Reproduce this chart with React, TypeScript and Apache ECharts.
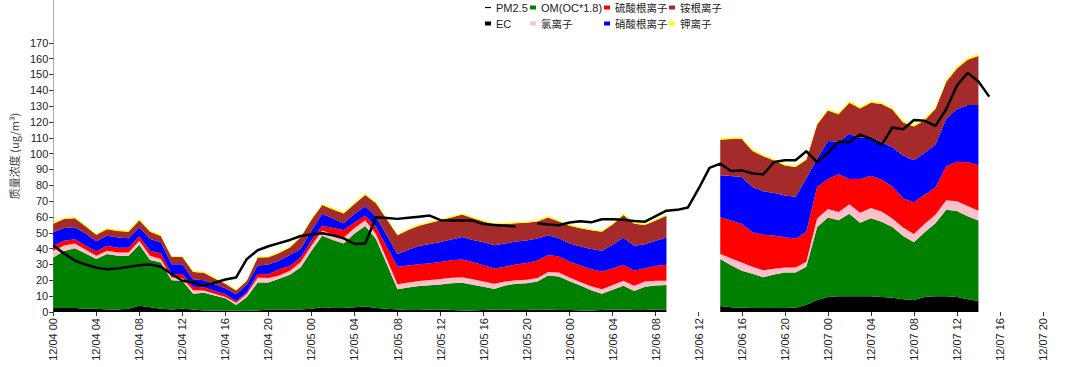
import React, { useEffect, useRef } from "react";
import * as echarts from "echarts";

// hours since 12/04 00:00 (areas; 58-61 missing)
const hours = [
  0, 1, 2, 3, 4, 5, 6, 7, 8, 9, 10, 11, 12, 13, 14, 15, 16, 17, 18, 19,
  20, 21, 22, 23, 24, 25, 26, 27, 28, 29, 30, 31, 32, 33, 34, 35, 36, 37, 38, 39,
  40, 41, 42, 43, 44, 45, 46, 47, 48, 49, 50, 51, 52, 53, 54, 55, 56, 57, 58, 59,
  60, 61, 62, 63, 64, 65, 66, 67, 68, 69, 70, 71, 72, 73, 74, 75, 76, 77, 78, 79,
  80, 81, 82, 83, 84, 85, 86,
];

const ec = [
  2.5, 2.5, 2.5, 2, 2, 1.5, 1.5, 2, 4, 3, 2, 1.5, 2, 1.5, 1, 1, 1, 0.8, 0.8, 1,
  1.5, 1.5, 1.5, 1.5, 2, 3, 2.5, 2.5, 3, 3.5, 2.5, 2, 1.5, 1.2, 1.2, 1.5, 1.5, 1.2, 1, 1,
  1.2, 1.5, 1.5, 1.2, 1.2, 1.5, 1.5, 1.2, 1.2, 1, 1, 1.2, 1.5, 1.5, 1.2, 1.2, 1.5, 1.5, null, null,
  null, null, 3.8, 3, 2.7, 2.5, 2.5, 2.5, 2.5, 2.7, 4.5, 7.5, 9.5, 10, 10, 10, 10, 9.5, 9, 8,
  7.5, 9.5, 10, 10, 9.5, 8, 7,
];

const om = [
  31.9, 36, 37.8, 35, 31.4, 35.1, 34, 33.5, 38.5, 29.8, 29.3, 18.6, 17.7, 10.1, 11.2, 9.4, 7.7, 3.6, 8.7, 17.6,
  17.1, 19.5, 22, 26.8, 36.7, 45.2, 43, 40.8, 46.5, 50.8, 43.6, 28.3, 12.9, 14.3, 15.2, 15.4, 15.9, 16.9, 17.5, 16.2,
  14.7, 13.1, 15.3, 16.6, 17, 17.8, 21.5, 21.2, 18.2, 15.8, 12.8, 10.4, 12.5, 15, 12.1, 14.8, 15.3, 15.6, null, null,
  null, null, 29.6, 26.5, 23.3, 21.7, 19.5, 21.2, 22.4, 22.2, 24.1, 46, 50.1, 48, 52, 46.4, 49.2, 47.5, 44.6, 40,
  36.5, 40.9, 46.1, 54.5, 54.2, 52.5, 50.7,
];

const chloride = [
  4.3, 3.5, 3, 2.5, 2.1, 2.1, 2, 2, 2.5, 2.7, 2.1, 1.7, 1.8, 2.2, 1.3, 1.1, 0.8, 1.5, 2, 3.2,
  2.9, 2, 2.5, 3.2, 3.3, 3.2, 3.5, 3.8, 3.5, 3.7, 3.2, 3.1, 3.2, 3.2, 3.2, 3.3, 3.5, 3.5, 3.5, 3.4,
  3.4, 3.2, 2.4, 2.2, 2.2, 2.1, 2.3, 2.6, 2.4, 2.2, 2.4, 2.8, 3, 3.2, 3.2, 3.2, 2.9, 2.6, null, null,
  null, null, 3.2, 4.5, 5.3, 4.4, 4.3, 3.6, 3.2, 3.2, 3.2, 5.5, 5.4, 5.2, 6, 6.3, 6.4, 6.5, 5.4, 5.4,
  5.3, 5.3, 5.3, 6, 6.3, 6.4, 6.3,
];

const sulfate = [
  3.2, 3, 2.7, 2.5, 2.7, 3.2, 3, 3, 2.6, 3.2, 3.6, 2.1, 2.5, 2.1, 2.1, 1.8, 1.7, 1.1, 1, 2.2,
  2.4, 4, 3, 3, 3, 3.1, 4, 4.7, 3.5, 2.8, 4.4, 7.7, 10.9, 10.7, 10.5, 10.6, 10.6, 11.1, 11.2, 11,
  10.2, 9.6, 9.4, 10, 10.6, 11.1, 10.7, 10, 9.9, 10.3, 10.8, 11.2, 10.5, 10.1, 9.5, 8.5, 9.3, 10.1, null, null,
  null, null, 23.2, 23.8, 24.3, 21.7, 22.4, 21, 19.1, 18.3, 18.7, 20, 19, 23.8, 16, 21.3, 20.4, 20, 20.2, 18.2,
  20, 18.4, 17.2, 21.5, 24.8, 27.6, 28.6,
];

const nitrate = [
  8.4, 8, 7.5, 7.5, 6.4, 6.3, 6.5, 6, 5.9, 7.4, 7, 6.3, 6.2, 4.8, 4.5, 4.2, 3.8, 4.2, 5, 5.4,
  6.1, 5.5, 7, 5.5, 6.5, 7.5, 6, 4.2, 5.5, 6.2, 6.6, 7.4, 8.1, 9.9, 11.5, 12.2, 12.7, 13.1, 14.2, 13.9,
  14.5, 14.8, 14.6, 14.5, 14.2, 13.9, 12.4, 11.5, 11.5, 12, 12.8, 13.1, 15, 17.3, 15.9, 15, 16, 17.3, null, null,
  null, null, 26.5, 28, 29.6, 28.7, 27.5, 26.9, 26.4, 26.4, 34, 17.7, 24, 20.5, 28.5, 26, 24.7, 23.9, 24.8, 27.2,
  26.5, 26.4, 27.2, 30, 33.4, 36.2, 38.1,
];

const ammonium = [
  5.5, 5.7, 5.7, 4.7, 4.1, 4, 4.2, 4.2, 4.5, 4.5, 4, 4.5, 4.5, 4.5, 4.7, 3.7, 2.8, 2.4, 2.2, 5,
  4.5, 4.7, 4.7, 7.2, 6.7, 5.5, 5.7, 6.2, 6.2, 6.9, 8.4, 10.1, 11.9, 12.4, 12.9, 13.2, 13.7, 13.9, 14.1, 13.7,
  13.2, 13, 12.3, 11.5, 11.2, 10.8, 11.3, 10.7, 11.2, 11.6, 11.8, 11.9, 12.7, 14.1, 13.9, 12.3, 12.7, 13.6, null, null,
  null, null, 22.4, 23.4, 24, 22.7, 22.2, 20.4, 18.9, 18.7, 11.7, 21.5, 19.2, 17.4, 19.7, 18.5, 21.5, 23.9, 23.8, 20.9,
  21.4, 20.6, 22.4, 23.2, 25.5, 28.5, 30.9,
];

const potassium = [
  0.8, 0.8, 0.8, 0.8, 0.7, 0.8, 0.8, 0.8, 0.9, 0.8, 0.8, 0.7, 0.7, 0.7, 0.7, 0.6, 0.6, 0.6, 0.6, 0.7,
  0.7, 0.7, 0.8, 0.8, 0.8, 0.9, 0.9, 0.9, 0.9, 0.9, 0.9, 0.8, 0.8, 0.8, 0.8, 0.8, 0.8, 0.8, 0.8, 0.8,
  0.8, 0.8, 0.8, 0.8, 0.8, 0.8, 0.9, 0.8, 0.8, 0.8, 0.8, 0.8, 0.8, 0.9, 0.8, 0.8, 0.8, 0.8, null, null,
  null, null, 1, 1, 1, 1, 0.9, 0.9, 0.9, 0.9, 0.9, 1, 1, 1, 1, 1, 1, 1, 1, 1,
  1, 1, 1, 1.1, 1.1, 1.1, 1.1,
];

// PM2.5 line (hour 44 missing)
const pmHours = [
  0, 1, 2, 3, 4, 5, 6, 7, 8, 9, 10, 11, 12, 13, 14, 15, 16, 17, 18, 19,
  20, 21, 22, 23, 24, 25, 26, 27, 28, 29, 30, 31, 32, 33, 34, 35, 36, 37, 38, 39,
  40, 41, 42, 43, 44, 45, 46, 47, 48, 49, 50, 51, 52, 53, 54, 55, 56, 57, 58, 59,
  60, 61, 62, 63, 64, 65, 66, 67, 68, 69, 70, 71, 72, 73, 74, 75, 76, 77, 78, 79,
  80, 81, 82, 83, 84, 85, 86, 87,
];
const pm25 = [
  42, 37, 32.5, 30, 28, 27, 27.5, 28.5, 29.5, 30, 28.6, 24, 19.7, 18.6, 16.5, 18.5, 20.5, 21.8, 33.5, 39,
  41.5, 43.5, 45.5, 48, 49, 49.7, 48.5, 46.5, 43, 43.3, 59.8, 59.3, 58.8, 59.5, 60.2, 60.9, 58, 57.7, 57.7, 57.7,
  55.5, 55, 54.5, 54, null, 56, 55.2, 54.8, 56.5, 57.3, 56.6, 58.6, 58.5, 58.2, 57.5, 57, 60.5, 64, 64.5, 66,
  78, 91, 93.7, 89, 89.4, 87.5, 86.9, 94.7, 95.8, 95.8, 101.5, 94.7, 100.5, 107.5, 107.4, 112, 109.5, 105.5, 116.5, 115.3,
  121.2, 120.7, 117.5, 128, 143, 151, 145.5, 136,
];

const tickLabels = [
  "12/04 00", "12/04 04", "12/04 08", "12/04 12", "12/04 16", "12/04 20",
  "12/05 00", "12/05 04", "12/05 08", "12/05 12", "12/05 16", "12/05 20",
  "12/06 00", "12/06 04", "12/06 08", "12/06 12", "12/06 16", "12/06 20",
  "12/07 00", "12/07 04", "12/07 08", "12/07 12", "12/07 16", "12/07 20",
];
const yTicks = [0, 10, 20, 30, 40, 50, 60, 70, 80, 90, 100, 110, 120, 130, 140, 150, 160, 170];

const stackSeries = [
  { name: "EC", data: ec, color: "#000000" },
  { name: "OM(OC*1.8)", data: om, color: "#008000" },
  { name: "氯离子", data: chloride, color: "#ffc0cb" },
  { name: "硫酸根离子", data: sulfate, color: "#ff0000" },
  { name: "硝酸根离子", data: nitrate, color: "#0000ff" },
  { name: "铵根离子", data: ammonium, color: "#a52a2a" },
  { name: "钾离子", data: potassium, color: "#ffff00" },
];

const FONT = 'Arial, "Liberation Sans", "Noto Sans CJK SC", sans-serif';
const N_SLOTS = tickLabels.length * 4 - 3; // hourly slots 0..92
const slots = Array.from({ length: N_SLOTS }, (_, i) => String(i));

function onSlots(hs: number[], vals: (number | null)[]) {
  const out: (number | null)[] = slots.map(() => null);
  hs.forEach((h, i) => {
    out[h] = vals[i];
  });
  return out;
}

export default function App() {
  const ref = useRef<HTMLDivElement>(null);
  useEffect(() => {
    document.body.style.margin = "0";
    if (!ref.current) return;
    const chart = echarts.init(ref.current, null, { renderer: "svg" });
    const legendBase = {
      orient: "vertical",
      top: 1,
      padding: 0,
      itemGap: 3,
      itemWidth: 6,
      itemHeight: 4,
      icon: "rect",
      formatter: (name: string) => (/[\u4e00-\u9fff]/.test(name) ? `{c|${name}}` : name),
      textStyle: {
        fontSize: 11,
        color: "#222",
        fontFamily: FONT,
        lineHeight: 13,
        rich: { c: { fontSize: 10.5, color: "#222", fontFamily: '"Noto Sans CJK SC", sans-serif', lineHeight: 13 } },
      },
    };
    const option: any = {
      animation: false,
      backgroundColor: "#ffffff",
      grid: { left: 36, right: 31, top: 0, bottom: 55 },
      legend: [
        { ...legendBase, left: 485, data: [{ name: "PM2.5", icon: "path://M0 0H8V1.6H0Z" }, "EC"] },
        { ...legendBase, left: 530, data: ["OM(OC*1.8)", "氯离子"] },
        { ...legendBase, left: 604, data: ["硫酸根离子", "硝酸根离子"] },
        { ...legendBase, left: 669, data: ["铵根离子", "钾离子"] },
      ],
      xAxis: {
        type: "category",
        boundaryGap: false,
        data: slots,
        axisLine: { show: false },
        axisTick: { show: true, length: 4, interval: 3, lineStyle: { color: "#333" } },
        splitLine: { show: false },
        axisLabel: {
          interval: 3,
          rotate: 90,
          margin: 6,
          fontSize: 11,
          color: "#222",
          fontFamily: FONT,
          formatter: (_v: string, idx: number) => tickLabels[Math.round(idx / 4)] ?? "",
        },
      },
      yAxis: {
        type: "value",
        min: 0,
        max: 197,
        interval: 10,
        name: "质量浓度 (ug/m³)",
        nameLocation: "middle",
        nameGap: 23,
        nameTextStyle: { fontSize: 11, color: "#444", fontFamily: '"Noto Sans CJK SC", sans-serif' },
        axisLine: { show: true, lineStyle: { color: "#aaa" } },
        axisTick: { show: true, length: 4, lineStyle: { color: "#333" }, customValues: yTicks },
        splitLine: { show: false },
        axisLabel: {
          customValues: yTicks,
          margin: 5,
          fontSize: 11,
          color: "#222",
          fontFamily: FONT,
          formatter: (v: number) => (v > 170 ? "" : String(v)),
        },
      },
      series: [
        ...stackSeries.map((s) => ({
          name: s.name,
          type: "line",
          stack: "total",
          symbol: "none",
          connectNulls: false,
          lineStyle: { width: 0 },
          itemStyle: { color: s.color },
          areaStyle: { color: s.color, opacity: 1 },
          data: onSlots(hours, s.data),
        })),
        {
          name: "PM2.5",
          type: "line",
          symbol: "none",
          z: 5,
          connectNulls: false,
          itemStyle: { color: "#000" },
          lineStyle: { color: "#000", width: 2.5 },
          data: onSlots(pmHours, pm25),
        },
      ],
    };
    chart.setOption(option);
    return () => chart.dispose();
  }, []);
  return <div ref={ref} style={{ width: 1074, height: 367 }} />;
}
